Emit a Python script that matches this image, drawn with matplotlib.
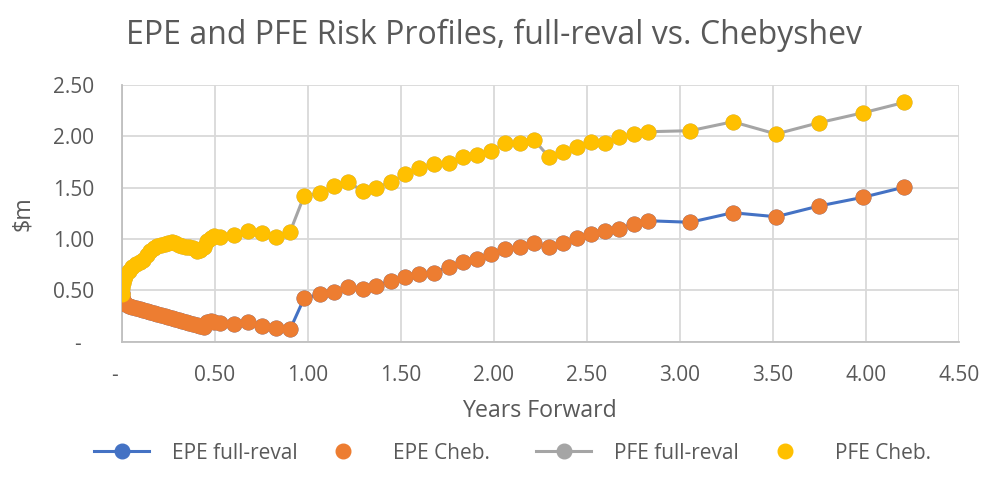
import matplotlib
matplotlib.use('Agg')
import matplotlib.pyplot as plt
from matplotlib.ticker import FuncFormatter, MultipleLocator

plt.rcParams['font.family'] = ['Open Sans', 'DejaVu Sans']

# years forward (weekly to ~0.5, then 4-weekly, then quarterly)
years = [0.000, 0.003, 0.008, 0.014, 0.019, 0.038, 0.058, 0.077, 0.096, 0.115,
         0.134, 0.153, 0.173, 0.192, 0.211, 0.230, 0.249, 0.268, 0.288, 0.307,
         0.326, 0.345, 0.364, 0.384, 0.403, 0.422, 0.441, 0.460, 0.479, 0.498,
         0.528, 0.604, 0.681, 0.753, 0.830, 0.905, 0.980, 1.065, 1.141, 1.218,
         1.294, 1.367, 1.446, 1.523, 1.600, 1.679, 1.756, 1.833, 1.909, 1.984,
         2.057, 2.138, 2.217, 2.294, 2.369, 2.444, 2.521, 2.595, 2.670, 2.751,
         2.828, 3.055, 3.283, 3.516, 3.745, 3.982, 4.206]

epe_cheb = [0.47, 0.44, 0.41, 0.39, 0.37, 0.35, 0.34, 0.33, 0.32, 0.31,
            0.30, 0.29, 0.28, 0.27, 0.26, 0.25, 0.24, 0.23, 0.22, 0.21,
            0.20, 0.19, 0.18, 0.17, 0.16, 0.15, 0.14, 0.19, 0.20, 0.19,
            0.185, 0.172, 0.189, 0.153, 0.136, 0.121, 0.422, 0.462, 0.482, 0.536,
            0.510, 0.542, 0.594, 0.627, 0.659, 0.672, 0.730, 0.779, 0.802, 0.854,
            0.903, 0.919, 0.958, 0.919, 0.964, 1.007, 1.049, 1.080, 1.100, 1.146,
            1.178, 1.163, 1.256, 1.217, 1.321, 1.406, 1.506]

pfe_cheb = [0.46, 0.52, 0.57, 0.61, 0.64, 0.69, 0.73, 0.76, 0.78, 0.80,
            0.84, 0.88, 0.91, 0.93, 0.94, 0.95, 0.96, 0.97, 0.96, 0.94,
            0.93, 0.92, 0.92, 0.91, 0.88, 0.89, 0.92, 0.98, 1.01, 1.03,
            1.022, 1.039, 1.078, 1.061, 1.022, 1.071, 1.420, 1.445, 1.516, 1.558,
            1.467, 1.494, 1.558, 1.630, 1.694, 1.730, 1.743, 1.795, 1.818, 1.857,
            1.932, 1.932, 1.964, 1.801, 1.844, 1.893, 1.941, 1.932, 1.993, 2.023,
            2.045, 2.055, 2.142, 2.023, 2.132, 2.229, 2.331]

# full revaluation sits right under the Chebyshev points
epe_full = list(epe_cheb)
pfe_full = list(pfe_cheb)

grey = '#595959'
ms = 10.5

fig = plt.figure(figsize=(9.83, 4.90), dpi=100)
ax = fig.add_axes([0.1238, 0.3027, 0.8520, 0.5238])

l1, = ax.plot(years, epe_full, color='#4472C4', lw=2.2, marker='o', ms=ms,
              label='EPE full-reval', zorder=3)
l2, = ax.plot(years, epe_cheb, ls='none', marker='o', ms=ms, color='#ED7D31',
              label='EPE Cheb.', zorder=4)
l3, = ax.plot(years, pfe_full, color='#A5A5A5', lw=2.2, marker='o', ms=ms,
              label='PFE full-reval', zorder=3)
l4, = ax.plot(years, pfe_cheb, ls='none', marker='o', ms=ms, color='#FFC000',
              label='PFE Cheb.', zorder=4)

ax.set_xlim(0, 4.5)
ax.set_ylim(0, 2.5)
ax.xaxis.set_major_locator(MultipleLocator(0.5))
ax.yaxis.set_major_locator(MultipleLocator(0.5))
# excel accounting style: zero shows as a dash
fmt = FuncFormatter(lambda v, p: '-\u2007' if abs(v) < 1e-9 else f'{v:.2f}')
ax.xaxis.set_major_formatter(fmt)
ax.yaxis.set_major_formatter(fmt)

ax.grid(True, color='#D9D9D9', lw=1.3)
ax.set_axisbelow(True)
for s in ['top', 'right']:
    ax.spines[s].set_visible(False)
for s in ['left', 'bottom']:
    ax.spines[s].set_color('#BFBFBF')
    ax.spines[s].set_linewidth(1.3)
ax.tick_params(length=0, labelsize=15, labelcolor=grey)
ax.tick_params(axis='y', pad=20)
ax.tick_params(axis='x', pad=17)

fig.text(0.549, 0.161, 'Years Forward', ha='center', va='center',
         fontsize=16.7, color=grey)
fig.text(0.023, 0.565, '$m', ha='center', va='center', rotation=90,
         fontsize=16.7, color=grey)
fig.text(0.5025, 0.928, 'EPE and PFE Risk Profiles, full-reval vs. Chebyshev',
         ha='center', va='center', fontsize=23, color=grey)

# excel spreads legend entries over equal-width columns
for line, x0 in zip([l1, l2, l3, l4], [94, 315, 536, 757]):
    fig.legend(handles=[line], loc='center left',
               bbox_to_anchor=(x0 / 983, 0.0755), frameon=False,
               fontsize=15, labelcolor=grey, handlelength=2.64,
               handletextpad=1.1, borderpad=0, borderaxespad=0)

fig.savefig('out.png', dpi=100)
